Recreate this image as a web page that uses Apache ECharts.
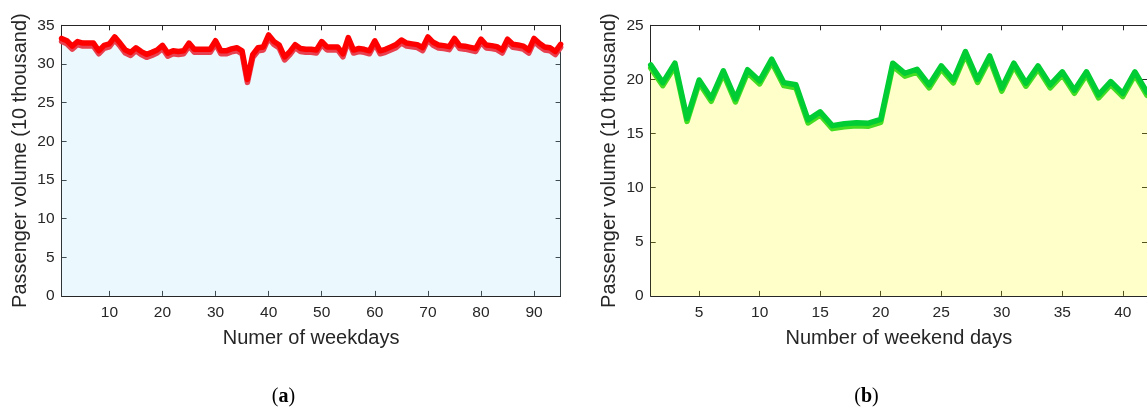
<!DOCTYPE html>
<html>
<head>
<meta charset="utf-8">
<script src="https://cdn.jsdelivr.net/npm/echarts@6/dist/echarts.min.js"></script>
<style>
  html, body { margin: 0; padding: 0; background: #ffffff; }
  #chart { width: 1147px; height: 410px; }
</style>
</head>
<body>
<div id="chart"></div>
<script>
// ---- Data ----
const weekdayVolume = [
  33.3, 33.0, 32.3, 32.9, 32.7, 32.7, 32.7, 31.7, 32.4, 32.6,
  33.5, 32.7, 31.8, 31.5, 32.1, 31.6, 31.25, 31.5, 31.8, 32.4,
  31.4, 31.7, 31.6, 31.7, 32.7, 31.9, 31.9, 31.9, 31.9, 33.0,
  31.7, 31.7, 31.95, 32.1, 31.7, 28.0, 31.2, 32.1, 32.2, 33.75,
  32.9, 32.45, 30.9, 31.6, 32.5, 32.0, 31.9, 31.9, 31.8, 32.9,
  32.2, 32.2, 32.2, 31.3, 33.4, 31.8, 32.0, 31.9, 31.7, 33.0,
  31.7, 31.9, 32.2, 32.5, 33.1, 32.7, 32.6, 32.5, 32.1, 33.5,
  32.8, 32.45, 32.37, 32.24, 33.3, 32.37, 32.3, 32.15, 32.0, 33.2,
  32.45, 32.37, 32.24, 31.8, 33.2, 32.54, 32.45, 32.3, 31.8, 33.3,
  32.67, 32.2, 32.1, 31.6, 32.54
];
const weekendVolume = [
  21.34, 19.7, 21.5, 16.4, 19.95, 18.26, 20.8, 18.2, 20.9, 19.86,
  21.87, 19.7, 19.5, 16.26, 17.0, 15.73, 15.9, 16.0, 15.96, 16.3,
  21.5, 20.57, 20.94, 19.49, 21.25, 19.95, 22.57, 20.0, 22.17, 19.2,
  21.5, 19.65, 21.25, 19.5, 20.7, 19.0, 20.7, 18.57, 19.8, 18.7,
  20.7, 18.8
];
const weekdayTicks = [10, 20, 30, 40, 50, 60, 70, 80, 90];
const weekendTicks = [5, 10, 15, 20, 25, 30, 35, 40];
const yTitle = 'Passenger volume (10 thousand)';
const xTitleA = 'Numer of weekdays';
const xTitleB = 'Number of weekend days';
const captionA = 'a';
const captionB = 'b';

// day numbers (1-based) paired with values
const weekdayData = weekdayVolume.map((v, i) => [i + 1, v]);
const weekendData = weekendVolume.map((v, i) => [i + 1, v]);

const AX = '#262626';
const FONT = '"Liberation Sans", Arial, Helvetica, sans-serif';

function xAxisBottom(gridIndex, max, ticks, name) {
  return {
    type: 'value', gridIndex, min: 1, max, position: 'bottom',
    name, nameLocation: 'middle', nameGap: 33,
    nameTextStyle: { color: AX, fontSize: 20, fontFamily: FONT },
    axisLine: { show: true, onZero: false, lineStyle: { color: AX, width: 1 } },
    axisTick: { show: true, inside: true, length: 5, customValues: ticks, lineStyle: { color: AX } },
    axisLabel: { show: true, customValues: ticks, margin: 9, color: AX, fontSize: 15.5, fontFamily: FONT },
    splitLine: { show: false }
  };
}
function xAxisTop(gridIndex, max, ticks) {
  return {
    type: 'value', gridIndex, min: 1, max, position: 'top',
    axisLine: { show: true, onZero: false, lineStyle: { color: AX, width: 1 } },
    axisTick: { show: true, inside: true, length: 5, customValues: ticks, lineStyle: { color: AX } },
    axisLabel: { show: false },
    splitLine: { show: false }
  };
}
function yAxisLeft(gridIndex, max) {
  return {
    type: 'value', gridIndex, min: 0, max, interval: 5, position: 'left',
    name: yTitle, nameLocation: 'middle', nameGap: 31, nameRotate: 90,
    nameTextStyle: { color: AX, fontSize: 20, fontFamily: FONT },
    axisLine: { show: true, onZero: false, lineStyle: { color: AX, width: 1 } },
    axisTick: { show: true, inside: true, length: 5, lineStyle: { color: AX } },
    axisLabel: { show: true, margin: 7, color: AX, fontSize: 15.5, fontFamily: FONT },
    splitLine: { show: false }
  };
}
function yAxisRight(gridIndex, max) {
  return {
    type: 'value', gridIndex, min: 0, max, interval: 5, position: 'right',
    axisLine: { show: true, onZero: false, lineStyle: { color: AX, width: 1 } },
    axisTick: { show: true, inside: true, length: 5, lineStyle: { color: AX } },
    axisLabel: { show: false },
    splitLine: { show: false }
  };
}

const chart = echarts.init(document.getElementById('chart'), null, { renderer: 'canvas' });
chart.setOption({
  animation: false,
  backgroundColor: '#ffffff',
  grid: [
    { left: 61.6, top: 25.3, width: 499, height: 270.6 },
    { left: 650.7, top: 25.3, width: 499, height: 270.6 }
  ],
  xAxis: [
    xAxisBottom(0, 95, weekdayTicks, xTitleA),
    xAxisTop(0, 95, weekdayTicks),
    xAxisBottom(1, 42, weekendTicks, xTitleB),
    xAxisTop(1, 42, weekendTicks)
  ],
  yAxis: [
    yAxisLeft(0, 35),
    yAxisRight(0, 35),
    yAxisLeft(1, 25),
    yAxisRight(1, 25)
  ],
  series: [
    {
      type: 'line', xAxisIndex: 0, yAxisIndex: 0, data: weekdayData,
      showSymbol: false, symbol: 'none',
      lineStyle: { color: '#ff0000', width: 5.5, cap: 'round', join: 'round',
        shadowColor: '#e8404f', shadowBlur: 0, shadowOffsetX: 0, shadowOffsetY: 3 },
      areaStyle: { color: 'rgba(160,222,247,0.3)', origin: 'start' }
    },
    {
      type: 'line', xAxisIndex: 2, yAxisIndex: 2, data: weekendData,
      showSymbol: false, symbol: 'none',
      lineStyle: { color: '#00cc33', width: 5.5, cap: 'round', join: 'round',
        shadowColor: '#44dd22', shadowBlur: 0, shadowOffsetX: 0, shadowOffsetY: 3 },
      areaStyle: { color: 'rgba(255,255,5,0.3)', origin: 'start' }
    }
  ],
  graphic: [
    {
      type: 'text', x: 283.5, y: 397,
      style: {
        text: '{p|(}{b|' + captionA + '}{p|)}',
        align: 'center', verticalAlign: 'middle',
        rich: {
          p: { fontSize: 20, fontFamily: '"Liberation Serif", serif', fill: '#000' },
          b: { fontSize: 20, fontWeight: 'bold', fontFamily: '"Liberation Serif", serif', fill: '#000' }
        }
      }
    },
    {
      type: 'text', x: 866.5, y: 397,
      style: {
        text: '{p|(}{b|' + captionB + '}{p|)}',
        align: 'center', verticalAlign: 'middle',
        rich: {
          p: { fontSize: 20, fontFamily: '"Liberation Serif", serif', fill: '#000' },
          b: { fontSize: 20, fontWeight: 'bold', fontFamily: '"Liberation Serif", serif', fill: '#000' }
        }
      }
    }
  ]
});
</script>
</body>
</html>
